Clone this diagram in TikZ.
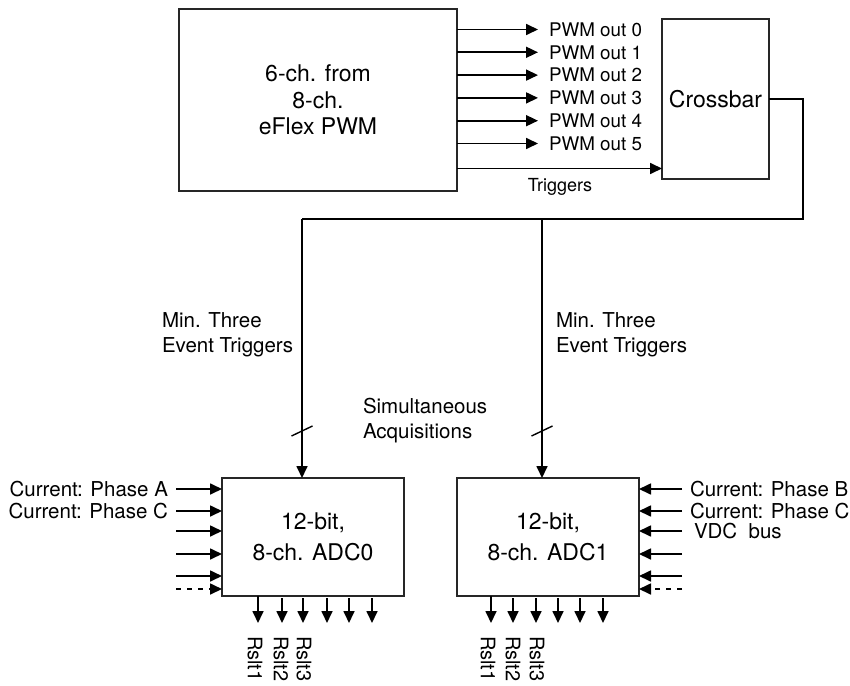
\documentclass[tikz,border=0pt]{standalone}
\usepackage{fontspec}
\setmainfont{TeX Gyre Heros}
\usetikzlibrary{arrows.meta}
\begin{document}
\begin{tikzpicture}[x=1pt,y=-1pt,
  box/.style={draw=black!85, line width=1.8pt, inner sep=0pt, outer sep=0pt, align=center},
  wire/.style={line width=1.7pt},
  arr/.style={wire, -{Triangle[length=12pt,width=11pt]}},
  dsh/.style={dash pattern=on 5pt off 6pt},
  txt/.style={inner sep=0pt, outer sep=0pt},
  fbig/.style={font=\fontsize{23}{26.5}\selectfont},
  fadc/.style={font=\fontsize{23}{31}\selectfont},
  fpwm/.style={font=\fontsize{18.8}{22}\selectfont},
  flab/.style={font=\fontsize{20.5}{25}\selectfont},
  ftrg/.style={font=\fontsize{18}{22}\selectfont},
  frs/.style={font=\fontsize{20}{24}\selectfont},
]
\useasboundingbox (0,0) rectangle (850,685);

% blocks
\node[box, fbig, minimum width=278pt, minimum height=182pt] (pwm) at (318,100)
  {6-ch. from\\8-ch.\\eFlex PWM};
\node[box, fbig, minimum width=107pt, minimum height=160pt] (cb) at (715.5,99) {Crossbar};
\node[box, fadc, minimum width=182pt, minimum height=118pt] (adc0) at (313,537)
  {12-bit,\\8-ch. ADC0};
\node[box, fadc, minimum width=182pt, minimum height=118pt] (adc1) at (548,537)
  {12-bit,\\8-ch. ADC1};

% PWM outputs
\foreach \i/\y in {0/29.5,1/52.3,2/75.1,3/97.9,4/120.7,5/143.5}{
  \node[txt, fpwm, anchor=west] (o\i) at (549,\y) {PWM out \i};
  \draw[arr] (pwm.east |- o\i) -- ([xshift=-11pt]o\i.west);
}
\coordinate (tr) at (460,168.5);
\draw[arr] (pwm.east |- tr) -- (cb.west |- tr);
\node[txt, ftrg] (trl) at (560,187) {Triggers};

% crossbar to ADCs
\coordinate (bus) at (803,219);
\coordinate (j0) at (302,219);
\coordinate (j1) at (542,219);
\draw[wire] (cb.east) -| (bus) -- (j0);
\draw[arr] (j0) -- (j0 |- adc0.north);
\draw[arr] (j1) -- (j1 |- adc1.north);

% slash ticks
\coordinate (t0) at (302,431);
\coordinate (t1) at (542,431);
\draw[line width=1.4pt] ([shift={(-10.5,5)}]t0) -- ([shift={(10.5,-5)}]t0);
\draw[line width=1.4pt] ([shift={(-10.5,5)}]t1) -- ([shift={(10.5,-5)}]t1);

\node[txt, flab, anchor=west, align=left] (m0) at (162,334.5) {Min. Three\\Event Triggers};
\node[txt, flab, anchor=west, align=left] (m1) at (556,334.5) {Min. Three\\Event Triggers};
\node[txt, flab, anchor=west, align=left] (sim) at (363,420.5) {Simultaneous\\Acquisitions};

% ADC0 inputs
\node[txt, flab, anchor=east] (pa) at (168,489) {Current: Phase A};
\node[txt, flab, anchor=east] (pc0) at (168,511) {Current: Phase C};
\coordinate (a1) at (176,489);
\coordinate (a2) at (176,511);
\coordinate (a3) at (176,531);
\coordinate (a4) at (176,554);
\coordinate (a5) at (176,576);
\coordinate (a6) at (176,589);
\foreach \k in {1,...,5}{\draw[arr] (a\k) -- (adc0.west |- a\k);}
\draw[arr, dsh] (a6) -- (adc0.west |- a6);

% ADC1 inputs
\node[txt, flab, anchor=west] (pb) at (690,489) {Current: Phase B};
\node[txt, flab, anchor=west] (pc1) at (690,511) {Current: Phase C};
\node[txt, flab, anchor=west] (vdc) at (694,531) {VDC\ \ bus};
\coordinate (b1) at (682,489);
\coordinate (b2) at (682,511);
\coordinate (b3) at (682,531);
\coordinate (b4) at (682,554);
\coordinate (b5) at (682,576);
\coordinate (b6) at (682,589);
\foreach \k in {1,...,5}{\draw[arr] (b\k) -- (adc1.east |- b\k);}
\draw[arr, dsh] (b6) -- (adc1.east |- b6);

% ADC outputs
\coordinate (e0) at (0,623);
\foreach \k/\x in {1/258,2/282,3/303,4/327,5/349,6/372}{
  \coordinate (p\k) at (\x,598);
}
\draw[arr] (p1 |- adc0.south) -- (p1 |- e0);
\foreach \k in {2,...,6}{\draw[arr] (p\k) -- (p\k |- e0);}
\foreach \k/\x in {1/491,2/513,3/536,4/558,5/580,6/603}{
  \coordinate (q\k) at (\x,598);
}
\draw[arr] (q1 |- adc1.south) -- (q1 |- e0);
\foreach \k in {2,...,6}{\draw[arr] (q\k) -- (q\k |- e0);}

\node[txt, frs, rotate=-90, anchor=west] (r01) at (255,636) {Rslt1};
\node[txt, frs, rotate=-90, anchor=west] (r02) at (281,636) {Rslt2};
\node[txt, frs, rotate=-90, anchor=west] (r03) at (304,636) {Rslt3};
\node[txt, frs, rotate=-90, anchor=west] (r11) at (488,636) {Rslt1};
\node[txt, frs, rotate=-90, anchor=west] (r12) at (513,636) {Rslt2};
\node[txt, frs, rotate=-90, anchor=west] (r13) at (537,636) {Rslt3};
\end{tikzpicture}
\end{document}
